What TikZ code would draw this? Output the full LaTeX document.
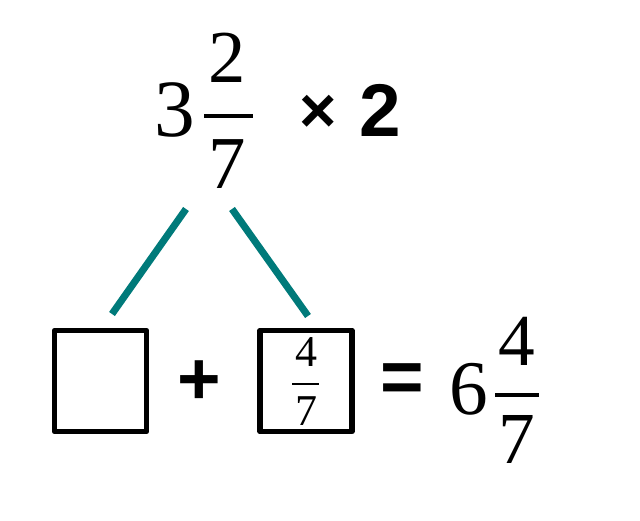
\documentclass[tikz,border=0pt]{standalone}
\usepackage{fontspec}
\setmainfont{Liberation Serif}
\newfontfamily\boldsans{Liberation Sans}[BoldFont={Liberation Sans Bold}]
\definecolor{tealline}{RGB}{0,122,122}
\begin{document}
\begin{tikzpicture}[x=0.75pt,y=-0.75pt,
  digit/.style={inner sep=0pt,font=\fontsize{#1}{#1}\selectfont},
  op/.style={inner sep=0pt,font=\boldsans\bfseries\fontsize{#1}{#1}\selectfont},
  connector/.style={draw=tealline,line width=5.3pt},
  answerbox/.style={draw=black,line width=4.2pt,line join=round,minimum width=92*0.75pt,minimum height=101*0.75pt,inner sep=0pt},
  fracbar/.style={draw=black,line width=#1}]
\useasboundingbox (0,0) rectangle (640,521);
% top expression
\node[digit=61] (three) at (175,110) {3};
\node[digit=56] (num1) at (227,58) {2};
\draw[fracbar=3pt] (204,116) -- (253,116);
\node[digit=56] (den1) at (227,164) {7};
\node[op=48] (times) at (318,114) {×};
\node[op=56] (two) at (380,110) {2};
% connectors
\coordinate (la) at (186,209);
\coordinate (lb) at (112,314);
\coordinate (ra) at (232,209);
\coordinate (rb) at (308,316);
\draw[connector] (la) -- (lb);
\draw[connector] (ra) -- (rb);
% bottom equation
\node[answerbox] (box1) at (100.5,381) {};
\node[op=56] (plus) at (199.5,382.5) {+};
\node[answerbox] (box2) at (306,381) {};
\node[digit=33] (num2) at (306,352) {4};
\draw[fracbar=1.5pt] (292,384) -- (319,384);
\node[digit=33] (den2) at (306,411.5) {7};
\node[op=56] (equals) at (402.5,383) {=};
\node[digit=58] (six) at (469,389) {6};
\node[digit=55] (num3) at (516.5,341.5) {4};
\draw[fracbar=3pt] (495,395) -- (539,395);
\node[digit=55] (den3) at (516.5,439) {7};
\end{tikzpicture}
\end{document}
